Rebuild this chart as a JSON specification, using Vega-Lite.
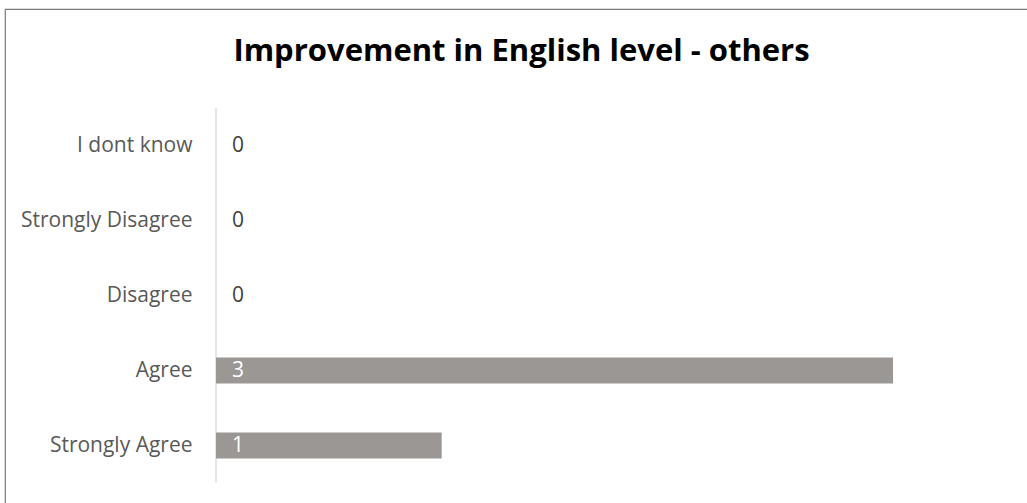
{
  "$schema": "https://vega.github.io/schema/vega-lite/v6.json",
  "width": 1023,
  "height": 495,
  "autosize": {"type": "none"},
  "padding": {"left": 5, "top": 9, "right": 0, "bottom": 0},
  "background": "white",
  "config": {"view": {"stroke": "#7a7a7a", "strokeWidth": 1.2}, "font": "Open Sans"},
  "title": {
    "text": "Improvement in English level - others",
    "font": "Open Sans",
    "fontSize": 31,
    "fontWeight": "bold",
    "color": "#000000",
    "anchor": "middle",
    "frame": "group",
    "baseline": "alphabetic",
    "offset": -83,
    "dx": 5
  },
  "data": {
    "values": [
      {"response": "I dont know", "count": 0},
      {"response": "Strongly Disagree", "count": 0},
      {"response": "Disagree", "count": 0},
      {"response": "Agree", "count": 3},
      {"response": "Strongly Agree", "count": 1}
    ]
  },
  "encoding": {
    "y": {
      "field": "response",
      "type": "nominal",
      "sort": ["I dont know", "Strongly Disagree", "Disagree", "Agree", "Strongly Agree"],
      "scale": {"paddingInner": 0, "paddingOuter": 0.8, "align": 0.825},
      "axis": {
        "title": null,
        "orient": "left",
        "offset": -211,
        "ticks": false,
        "domain": false,
        "grid": false,
        "labelPadding": 24,
        "labelFont": "Open Sans",
        "labelFontSize": 21,
        "labelColor": "#595959"
      }
    }
  },
  "layer": [
    {
      "mark": {"type": "rule", "color": "#d9d9d9", "strokeWidth": 1.3},
      "encoding": {
        "x": {"datum": 0, "type": "quantitative", "axis": null},
        "y": {
          "field": "response",
          "type": "nominal",
          "bandPosition": 0,
          "sort": ["I dont know", "Strongly Disagree", "Disagree", "Agree", "Strongly Agree"],
          "scale": {"paddingInner": 0, "paddingOuter": 0.8, "align": 0.825},
          "axis": {
            "title": null,
            "orient": "left",
            "offset": -211,
            "ticks": false,
            "domain": false,
            "grid": false,
            "labelPadding": 24,
            "labelFont": "Open Sans",
            "labelFontSize": 21,
            "labelColor": "#595959"
          }
        },
        "y2": {"field": "response", "bandPosition": 1}
      }
    },
    {
      "mark": {"type": "bar", "height": {"band": 0.347}, "color": "#9b9795"},
      "encoding": {
        "x": {
          "field": "count",
          "type": "quantitative",
          "scale": {"domain": [-0.935, 3.598], "nice": false, "zero": false},
          "axis": null
        },
        "x2": {"datum": 0}
      }
    },
    {
      "mark": {"type": "text", "align": "left", "baseline": "middle", "dx": 16, "fontSize": 21, "font": "Open Sans"},
      "encoding": {
        "x": {"datum": 0, "type": "quantitative", "axis": null},
        "text": {"field": "count", "type": "quantitative"},
        "color": {"condition": {"test": "datum.count > 0", "value": "#ffffff"}, "value": "#404040"}
      }
    }
  ]
}
